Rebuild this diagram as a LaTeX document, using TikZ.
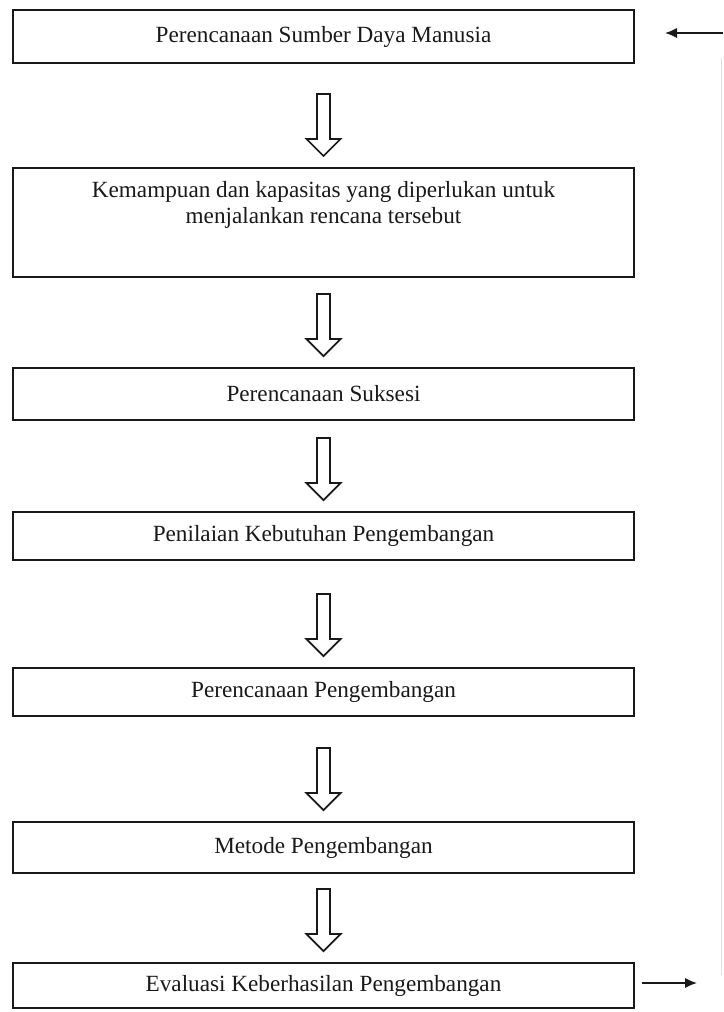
\documentclass[tikz,border=0pt]{standalone}
\usepackage{fontspec}
\setmainfont{Liberation Serif}
\usetikzlibrary{arrows.meta,calc}

\tikzset{
  stage/.style={draw=black!90, line width=1.4pt, minimum width=15.525cm, align=center,
    font=\fontsize{16.5}{18.5}\selectfont, text=black!90, inner sep=2pt},
  hollow/.style={draw=black!90, line width=1.25pt, fill=white, line join=miter},
  fb/.style={draw=black!90, line width=1.3pt, -{Latex[length=3mm,width=2.6mm]}}
}
% hollow down arrow between two stages
\newcommand{\flowarrow}[2]{%
  \draw[hollow] ($(#1.south |- #2.north)+(-6.5,-73)$) -- ++(0,45) -- ++(-10.5,0)
    -- ($(#1.south |- #2.north)+(0,-11)$) -- ++(17,-17) -- ++(-10.5,0) -- ++(0,-45) -- cycle;}

\begin{document}
\begin{tikzpicture}[x=0.025cm, y=-0.025cm]
  \useasboundingbox (0,0) rectangle (723,1012);
  \node[stage, minimum height=1.325cm] (plan) at (323.5,36.5) {Perencanaan Sumber Daya Manusia};
  \node[stage, minimum height=2.725cm, text depth=1.0cm] (cap) at (323.5,222.5)
    {Kemampuan dan kapasitas yang diperlukan untuk\\menjalankan rencana tersebut};
  \node[stage, minimum height=1.3cm] (succ) at (323.5,394) {Perencanaan Suksesi};
  \node[stage, minimum height=1.2cm] (need) at (323.5,536) {Penilaian Kebutuhan Pengembangan};
  \node[stage, minimum height=1.2cm] (devplan) at (323.5,692) {Perencanaan Pengembangan};
  \node[stage, minimum height=1.275cm] (method) at (323.5,847.5) {Metode Pengembangan};
  \node[stage, minimum height=1.125cm] (eval) at (323.5,985.5) {Evaluasi Keberhasilan Pengembangan};

  \flowarrow{plan}{cap}
  \flowarrow{cap}{succ}
  \flowarrow{succ}{need}
  \flowarrow{need}{devplan}
  \flowarrow{devplan}{method}
  \flowarrow{method}{eval}

  % feedback
  \coordinate (fbtop) at (723,33);
  \coordinate (fbtip) at (665,33);
  \coordinate (fbend) at (697,983);
  \draw[fb] (fbtop) -- (fbtip);
  \draw[fb] ($(eval.east)+(7,-2.5)$) -- (fbend);
  \draw[black!12, line width=0.6pt] (721,58) -- (721,975);
\end{tikzpicture}
\end{document}
